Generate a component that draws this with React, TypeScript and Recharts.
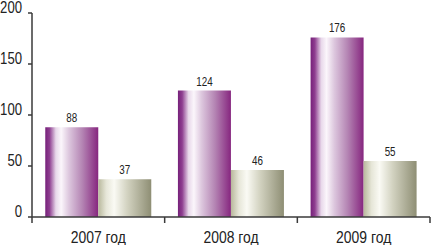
import { BarChart, Bar, XAxis, YAxis, LabelList } from "recharts";

const categories = ["2007 год", "2008 год", "2009 год"];
const seriesA = [88, 124, 176];
const seriesB = [37, 46, 55];
const yTicks = [0, 50, 100, 150, 200];

const W = 431;
const H = 245;
const Y_W = 32;
const M_RIGHT = 1;
const FONT = "'Liberation Sans', Arial, sans-serif";
const NARROW = 0.82; // squeeze to mimic a condensed face
const AXIS = "#3a3a3a";

const data = categories.map((name, i) => ({ name, a: seriesA[i], b: seriesB[i] }));
const band = (W - Y_W - M_RIGHT) / categories.length;

function Narrow({ x, y, size, anchor, children }: any) {
  return (
    <text
      transform={`translate(${x},${y}) scale(${NARROW},1)`}
      textAnchor={anchor}
      fontSize={size}
      fill="#222"
      fontFamily={FONT}
    >
      {children}
    </text>
  );
}

function YTick(props: any) {
  const { x, y, payload } = props;
  return (
    <Narrow x={x} y={y} size={16} anchor="end">
      {payload.value}
    </Narrow>
  );
}

function XTick(props: any) {
  const { x, y, payload, index } = props;
  return (
    <g>
      {index === 0 && (
        <line x1={x - band / 2} x2={x - band / 2} y1={y - 8} y2={y - 2} stroke={AXIS} strokeWidth={1.5} />
      )}
      <line x1={x + band / 2} x2={x + band / 2} y1={y - 8} y2={y - 2} stroke={AXIS} strokeWidth={1.5} />
      <Narrow x={x} y={y + 18} size={17} anchor="middle">
        {payload.value}
      </Narrow>
    </g>
  );
}

function ValueLabel(props: any) {
  const { x, y, width, value } = props;
  return (
    <Narrow x={x + width / 2} y={y - 5} size={12} anchor="middle">
      {value}
    </Narrow>
  );
}

export default function App() {
  return (
    <div style={{ position: "fixed", left: 0, top: 0, width: W, height: H, background: "#fff" }}>
      <BarChart
        width={W}
        height={H}
        data={data}
        margin={{ top: 13, right: M_RIGHT, bottom: 0, left: 0 }}
        barCategoryGap="10%"
        barGap={0}
      >
        <defs>
          <linearGradient id="gPurple" x1="0" y1="0" x2="1" y2="0">
            <stop offset="0%" stopColor="#76207a" />
            <stop offset="8%" stopColor="#8e3e90" />
            <stop offset="20%" stopColor="#e8d8ea" />
            <stop offset="30%" stopColor="#fbf6fb" />
            <stop offset="45%" stopColor="#dcc6dd" />
            <stop offset="70%" stopColor="#b484b3" />
            <stop offset="100%" stopColor="#86267f" />
          </linearGradient>
          <linearGradient id="gBeige" x1="0" y1="0" x2="1" y2="0">
            <stop offset="0%" stopColor="#b8b89c" />
            <stop offset="15%" stopColor="#e6e6d8" />
            <stop offset="30%" stopColor="#fafaf4" />
            <stop offset="55%" stopColor="#d2d2c0" />
            <stop offset="100%" stopColor="#8e8e74" />
          </linearGradient>
        </defs>
        <XAxis
          dataKey="name"
          height={28}
          tickLine={false}
          axisLine={{ stroke: AXIS, strokeWidth: 1.5 }}
          tick={<XTick />}
          interval={0}
        />
        <YAxis
          width={Y_W}
          domain={[0, 200]}
          ticks={yTicks}
          interval={0}
          tickSize={4}
          tickMargin={6}
          tickLine={{ stroke: AXIS, strokeWidth: 1.5 }}
          axisLine={{ stroke: AXIS, strokeWidth: 1.5 }}
          tick={<YTick />}
        />
        <Bar dataKey="a" fill="url(#gPurple)" isAnimationActive={false}>
          <LabelList dataKey="a" content={<ValueLabel />} />
        </Bar>
        <Bar dataKey="b" fill="url(#gBeige)" isAnimationActive={false}>
          <LabelList dataKey="b" content={<ValueLabel />} />
        </Bar>
      </BarChart>
    </div>
  );
}
